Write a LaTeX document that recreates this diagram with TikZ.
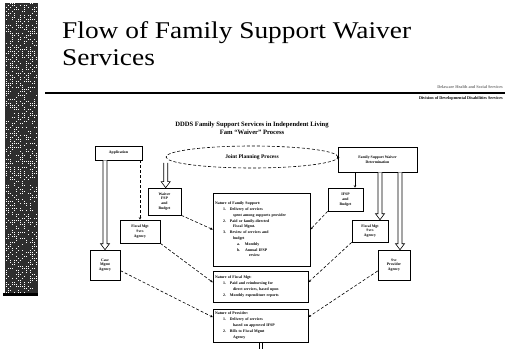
\documentclass[tikz,border=0pt]{standalone}
\usepackage{fontspec}
\setmainfont{Liberation Serif}
\usetikzlibrary{calc,shapes.geometric,arrows.meta}
\tikzset{
  bx/.style={draw, line width=0.6pt, inner sep=0.8pt, align=center,
    font=\fontsize{3.8}{4.8}\selectfont\bfseries},
  cbx/.style={draw, line width=0.6pt, inner sep=2pt, align=left,
    font=\fontsize{3.9}{5.8}\selectfont\bfseries},
  dashc/.style={densely dashed, line width=0.6pt, -{Stealth[length=2.5pt,width=2.5pt]}},
  harr/.style={draw, line width=0.6pt, fill=white},
  tiny/.style={inner sep=0, font=\fontsize{4.2}{5}\selectfont\bfseries},
}
\newcommand{\harrow}[2]{\draw[harr] let \p1=(#1), \p2=(#2) in
  (\x1-2pt,\y1) -- (\x1-2pt,\y2+6pt) -- (\x1-4.5pt,\y2+6pt) -- (\x1,\y2)
  -- (\x1+4.5pt,\y2+6pt) -- (\x1+2pt,\y2+6pt) -- (\x1+2pt,\y1);}
\begin{document}
\begin{tikzpicture}[x=1pt,y=-1pt]
\useasboundingbox (0,0) rectangle (505,355);
\fill[white] (0,0) rectangle (505,355);
% left decorative stripe
\fill[black!82] (5,3) rectangle (38,293);
\pgfmathsetseed{11}
\foreach \i in {0,...,15}{
  \foreach \j in {0,...,144}{
    \pgfmathparse{rnd}
    \ifdim\pgfmathresult pt<0.38pt
      \fill[white] (5.5+2*\i,3.5+2*\j) rectangle ++(1.3,0.9);
    \fi
  }
}
\fill[black] (3,293) rectangle (38,296);
% title
\node[anchor=base west, inner sep=0, font=\fontsize{24}{27}\selectfont, xscale=1.14] (t1) at (62,39) {Flow of Family Support Waiver};
\node[anchor=base west, inner sep=0, font=\fontsize{24}{27}\selectfont, xscale=1.14] (t2) at (62,66) {Services};
\draw[line width=1.3pt] (45,93) -- (505,93);
\node[tiny, anchor=base east, text=black!55] (r1) at (503,89) {Delaware Health and Social Services};
\node[tiny, anchor=base east] (r2) at (503,99.5) {Division of Developmental Disabilities Services};
% heading
\node[font=\fontsize{6.6}{8}\selectfont\bfseries, align=center] (hd) at (252,128) {DDDS Family Support Services in Independent Living\\Fam ``Waiver'' Process};
% top row
\node[bx, minimum width=47pt, minimum height=14pt] (lt) at (118.5,153) {Application};
\node[draw, densely dashed, line width=0.6pt, ellipse, minimum width=172pt, minimum height=22pt, inner sep=0, font=\fontsize{5.5}{6}\selectfont\bfseries] (el) at (252,157) {Joint Planning Process};
\node[bx, minimum width=79pt, minimum height=25pt] (rt) at (377.5,159.5) {Family Support Waiver\\Determination};
% side boxes
\node[bx, minimum width=33pt, minimum height=27pt] (wl) at (164.5,201.5) {Waiver\\FSP\\and\\Budget};
\node[bx, minimum width=40pt, minimum height=23pt] (fl) at (140,231.5) {Fiscal Mgt\\Svcs\\Agency};
\node[bx, minimum width=30pt, minimum height=30pt] (lb) at (105,265) {Case\\Mgmt\\Agency};
\node[bx, minimum width=35pt, minimum height=23pt] (wr) at (345.5,199.5) {IFSP\\and\\Budget};
\node[bx, minimum width=36pt, minimum height=22pt] (fr) at (370,231) {Fiscal Mgt\\Svcs\\Agency};
\node[bx, minimum width=32pt, minimum height=30pt] (rb) at (394,265) {Svc\\Provider\\Agency};
% center boxes
\node[cbx, text width=93pt, minimum height=73pt] (bc) at (261.5,229.5) {Nature of Family Support:\\
\hspace*{8pt}1.\hspace{4pt}Delivery of services\\
\hspace*{18pt}spent among supports provider\\
\hspace*{8pt}2.\hspace{4pt}Paid or family-directed\\
\hspace*{18pt}Fiscal Mgmt.\\
\hspace*{8pt}3.\hspace{4pt}Review of services and\\
\hspace*{18pt}budget\\
\hspace*{22pt}a.\hspace{5pt}Monthly\\
\hspace*{22pt}b.\hspace{5pt}Annual IFSP\\
\hspace*{34pt}review};
\node[cbx, text width=91pt, minimum height=31pt] (mc) at (260.5,286.5) {Nature of Fiscal Mgt:\\
\hspace*{8pt}1.\hspace{4pt}Paid and reimbursing for\\
\hspace*{18pt}direct services, based upon\\
\hspace*{8pt}2.\hspace{4pt}Monthly expenditure reports};
\node[cbx, text width=91pt, minimum height=33pt] (pc) at (260.5,325.5) {Nature of Provider:\\
\hspace*{8pt}1.\hspace{4pt}Delivery of services\\
\hspace*{18pt}based on approved IFSP\\
\hspace*{8pt}2.\hspace{4pt}Bills to Fiscal Mgmt\\
\hspace*{18pt}Agency};
% helper coordinates
\coordinate (elw) at ($(el.west)+(0,6)$);
\coordinate (ra) at ($(rt.south)+(-22.5,0)$);
\coordinate (rb1) at ($(rt.south)+(2.5,0)$);
\coordinate (rc) at ($(rt.south)+(22.5,0)$);
% hollow arrows
\harrow{lt.south -| lb.north}{lb.north}
\harrow{elw}{wl.north}
\harrow{rb1}{fr.north}
\harrow{rc}{rb.north}
% thin arrows
\draw[dashc] (lt.south -| fl.north) -- (fl.north);
\draw[line width=0.6pt, -{Stealth[length=2.5pt,width=2.5pt]}] (ra) -- (ra |- wr.north);
\draw[dashc] (el.east) -- (rt.west);
% dashed connectors to center boxes
\draw[dashc] (wl.south east) -- (bc.west);
\draw[dashc] (fl.south east) -- (mc.175);
\draw[dashc] (lb.340) -- (pc.170);
\draw[dashc] (wr.south west) -- (bc.east);
\draw[dashc] (fr.south west) -- (mc.5);
\draw[dashc] (rb.200) -- (pc.10);
% small mark below
\coordinate (pb) at (pc.south);
\draw[line width=0.6pt] ($(pb)+(-1.5,0)$) -- ++(0,7) ($(pb)+(1.5,0)$) -- ++(0,7);
\end{tikzpicture}
\end{document}
